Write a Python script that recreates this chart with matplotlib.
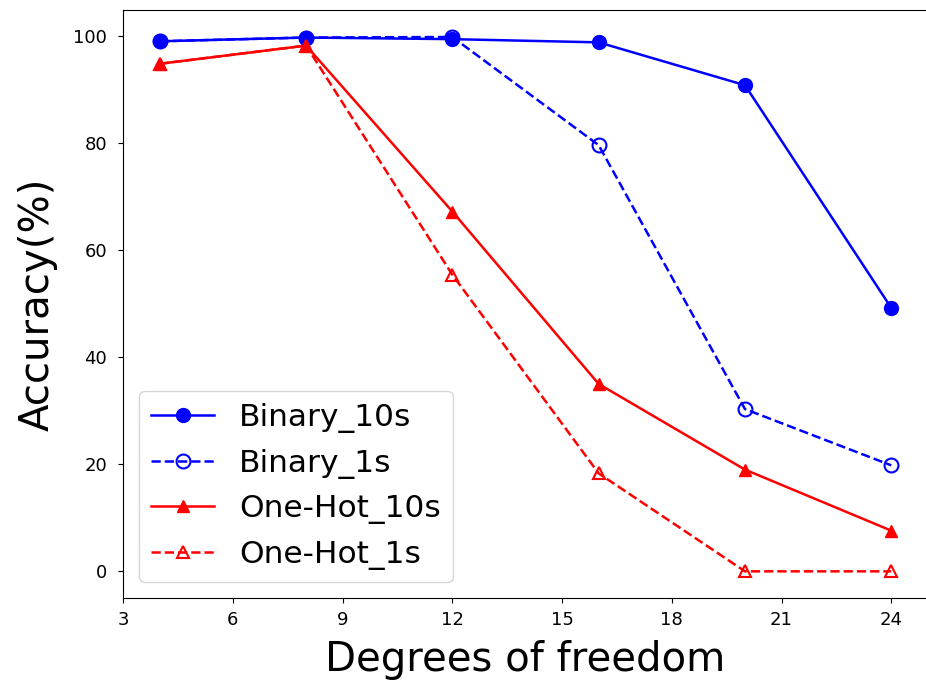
import matplotlib
matplotlib.use('Agg')
import matplotlib.pyplot as plt

# accuracy vs. degrees of freedom for both encodings and time budgets
dof = [4, 8, 12, 16, 20, 24]
binary_10s = [99.0, 99.7, 99.4, 98.8, 90.8, 49.2]
binary_1s = [99.0, 99.7, 99.8, 79.6, 30.3, 19.8]
onehot_10s = [94.8, 98.2, 67.2, 35.0, 19.0, 7.6]
onehot_1s = [94.8, 98.2, 55.4, 18.3, 0.0, 0.0]

x_ticks = [3, 6, 9, 12, 15, 18, 21, 24]
y_ticks = [0, 20, 40, 60, 80, 100]


def main():
    fig = plt.figure(figsize=(9.26, 6.82), dpi=100)
    ax = fig.add_axes([0.133, 0.123, 0.869, 0.862])

    ax.plot(dof, binary_10s, color='blue', lw=1.8, marker='o', ms=10,
            label='Binary_10s')
    ax.plot(dof, binary_1s, color='blue', lw=1.8, ls='--', marker='o', ms=10,
            markerfacecolor='none', markeredgewidth=1.5, label='Binary_1s')
    ax.plot(dof, onehot_10s, color='red', lw=1.8, marker='^', ms=9,
            label='One-Hot_10s')
    ax.plot(dof, onehot_1s, color='red', lw=1.8, ls='--', marker='^', ms=9,
            markerfacecolor='none', markeredgewidth=1.5, label='One-Hot_1s')

    ax.set_xlim(3, 25)
    ax.set_ylim(-5, 104.8)
    ax.set_xticks(x_ticks)
    ax.set_yticks(y_ticks)
    ax.tick_params(labelsize=13)
    ax.tick_params(axis='y', pad=8)
    ax.tick_params(axis='x', pad=6)
    ax.set_xlabel('Degrees of freedom', fontsize=29, labelpad=8)
    ax.set_ylabel('Accuracy(%)', fontsize=29, labelpad=11)
    ax.legend(loc='lower left', fontsize=22.5)

    fig.savefig('out.png', dpi=100)


if __name__ == "__main__":
    main()
